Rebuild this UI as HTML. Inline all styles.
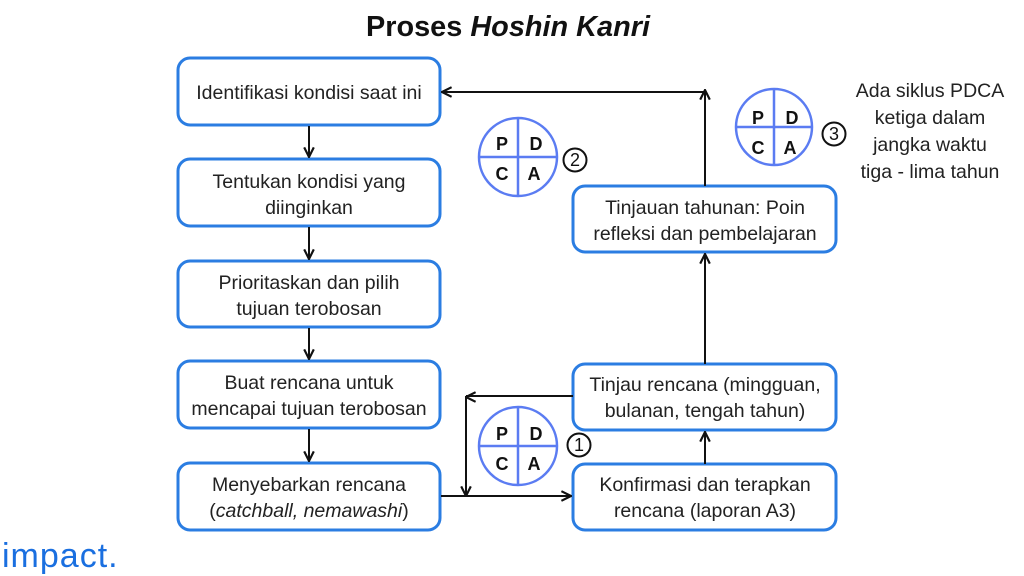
<!DOCTYPE html>
<html><head><meta charset="utf-8"><style>
html,body{margin:0;padding:0;background:#fff;width:1024px;height:576px;overflow:hidden}
svg{display:block;font-family:"Liberation Sans",sans-serif}
</style></head><body>
<svg width="1024" height="576" viewBox="0 0 1024 576">
<defs>
<marker id="ah" viewBox="0 0 10 10" refX="9" refY="5" markerWidth="6" markerHeight="6" orient="auto-start-reverse">
<path d="M1,1 L9,5 L1,9" fill="none" stroke="#111" stroke-width="1.8"/>
</marker>
</defs>
<text x="508" y="36" text-anchor="middle" font-size="29" font-weight="bold" fill="#111" textLength="284" lengthAdjust="spacingAndGlyphs">Proses <tspan font-style="italic">Hoshin Kanri</tspan></text>

<g fill="#fff" stroke="#2b7de2" stroke-width="3">
<rect x="178" y="58" width="262" height="67" rx="12"/>
<rect x="178" y="159" width="262" height="67" rx="12"/>
<rect x="178" y="261" width="262" height="66" rx="12"/>
<rect x="178" y="361" width="262" height="67" rx="12"/>
<rect x="178" y="463" width="262" height="67" rx="12"/>
<rect x="573" y="186" width="263" height="66" rx="12"/>
<rect x="573" y="364" width="263" height="66" rx="12"/>
<rect x="573" y="464" width="263" height="66" rx="12"/>
</g>

<g font-size="19.5" fill="#222" text-anchor="middle">
<text x="309" y="99">Identifikasi kondisi saat ini</text>
<text x="309" y="188">Tentukan kondisi yang</text>
<text x="309" y="214">diinginkan</text>
<text x="309" y="289">Prioritaskan dan pilih</text>
<text x="309" y="315">tujuan terobosan</text>
<text x="309" y="389">Buat rencana untuk</text>
<text x="309" y="415">mencapai tujuan terobosan</text>
<text x="309" y="491">Menyebarkan rencana</text>
<text x="309" y="517">(<tspan font-style="italic">catchball, nemawashi</tspan>)</text>
<text x="705" y="214">Tinjauan tahunan: Poin</text>
<text x="705" y="240">refleksi dan pembelajaran</text>
<text x="705" y="391">Tinjau rencana (mingguan,</text>
<text x="705" y="417">bulanan, tengah tahun)</text>
<text x="705" y="491">Konfirmasi dan terapkan</text>
<text x="705" y="517">rencana (laporan A3)</text>
<text x="930" y="97">Ada siklus PDCA</text>
<text x="930" y="124">ketiga dalam</text>
<text x="930" y="151">jangka waktu</text>
<text x="930" y="178">tiga - lima tahun</text>
</g>

<g stroke="#111" stroke-width="2" fill="none">
<line x1="309" y1="126" x2="309" y2="157" marker-end="url(#ah)"/>
<line x1="309" y1="227" x2="309" y2="259" marker-end="url(#ah)"/>
<line x1="309" y1="328" x2="309" y2="359" marker-end="url(#ah)"/>
<line x1="309" y1="429" x2="309" y2="461" marker-end="url(#ah)"/>
<polyline points="705,186 705,92 442,92" marker-end="url(#ah)"/>
<line x1="705" y1="92" x2="705" y2="90" marker-end="url(#ah)"/>
<line x1="705" y1="364" x2="705" y2="254" marker-end="url(#ah)"/>
<line x1="705" y1="464" x2="705" y2="432" marker-end="url(#ah)"/>
<polyline points="573,396 466,396"/>
<line x1="466" y1="396" x2="466" y2="496" marker-end="url(#ah)"/>
<line x1="466" y1="397" x2="468" y2="397" marker-end="url(#ah)" transform="rotate(180 467 397)"/>
<line x1="441" y1="496" x2="571" y2="496" marker-end="url(#ah)"/>
</g>

<g stroke="#5b7cf2" stroke-width="2.5" fill="#fff">
<circle cx="518" cy="157" r="39"/>
<line x1="518" y1="118" x2="518" y2="196"/><line x1="479" y1="157" x2="557" y2="157"/>
<circle cx="774" cy="127" r="38"/>
<line x1="774" y1="89" x2="774" y2="165"/><line x1="736" y1="127" x2="812" y2="127"/>
<circle cx="518" cy="446" r="39"/>
<line x1="518" y1="407" x2="518" y2="485"/><line x1="479" y1="446" x2="557" y2="446"/>
</g>
<g font-size="18" font-weight="bold" fill="#111" text-anchor="middle">
<text x="502" y="150">P</text><text x="536" y="150">D</text><text x="502" y="180">C</text><text x="534" y="180">A</text>
<text x="758" y="124">P</text><text x="792" y="124">D</text><text x="758" y="154">C</text><text x="790" y="154">A</text>
<text x="502" y="440">P</text><text x="536" y="440">D</text><text x="502" y="470">C</text><text x="534" y="470">A</text>
</g>
<g stroke="#111" stroke-width="2" fill="none">
<circle cx="575" cy="160" r="11.5"/><circle cx="834" cy="134" r="11.5"/><circle cx="579" cy="445" r="11.5"/>
</g>
<g font-size="18" fill="#111" text-anchor="middle">
<text x="575" y="166">2</text><text x="834" y="140">3</text><text x="579" y="451">1</text>
</g>
<text x="2" y="567" font-size="34" fill="#1a6fe0" letter-spacing="1">impact.</text>
</svg>
</body></html>
